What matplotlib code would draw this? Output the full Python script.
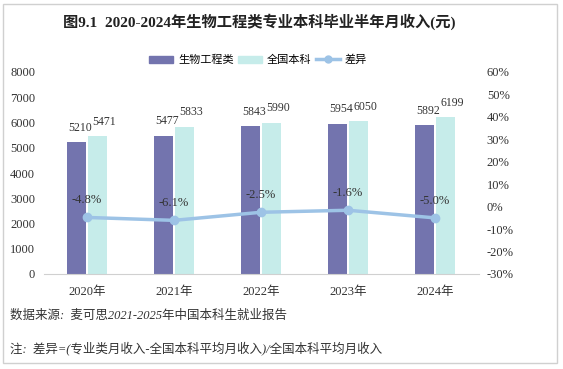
import matplotlib
matplotlib.use("Agg")
import matplotlib.pyplot as plt
import numpy as np
from matplotlib.patches import Rectangle
from matplotlib.lines import Line2D

years = ["2020年", "2021年", "2022年", "2023年", "2024年"]
bio_income = [5210, 5477, 5843, 5954, 5892]
national_income = [5471, 5833, 5990, 6050, 6199]
diff_pct = [-4.8, -6.1, -2.5, -1.6, -5.0]

FONT = ["Liberation Serif", "Noto Sans CJK SC"]
plt.rcParams["font.family"] = FONT

C_BIO = "#7374AE"
C_NAT = "#C6ECEA"
C_LINE = "#9DC3E6"

W, H = 563, 369
fig = plt.figure(figsize=(W / 100, H / 100), dpi=100)

# outer frame
fig.patches.append(Rectangle((3 / W, 6 / H), 554 / W, 359 / H, transform=fig.transFigure,
                             fill=False, edgecolor="#D0D0D0", linewidth=1))

ax = fig.add_axes([43.5 / W, (H - 274) / H, 435 / W, 202 / H])
x = np.arange(len(years))
bw = 0.225
off = 0.12
ax.bar(x - off, bio_income, bw, color=C_BIO, zorder=2)
ax.bar(x + off, national_income, bw, color=C_NAT, zorder=2)
ax.set_xlim(-0.5, len(years) - 0.5)
ax.set_ylim(0, 8000)
ax.set_yticks(range(0, 8001, 1000))
ax.set_xticks(x)
ax.set_xticklabels(years)
for s in ["top", "right", "left"]:
    ax.spines[s].set_visible(False)
ax.spines["bottom"].set_color("#D0D0D0")
ax.tick_params(axis="both", length=0, labelsize=9, colors="#333333")
ax.tick_params(axis="x", pad=9)
ax.tick_params(axis="y", pad=6)

for xi, v in zip(x, bio_income):
    ax.text(xi - off + 0.04, v + 330, str(v), ha="center", va="bottom", fontsize=8.5, color="#333333")
for xi, v in zip(x, national_income):
    ax.text(xi + off + 0.08, v + 330, str(v), ha="center", va="bottom", fontsize=8.5, color="#333333")

ax2 = ax.twinx()
ax2.plot(x, diff_pct, color=C_LINE, linewidth=2.5, marker="o", markersize=6, zorder=3)
ax2.set_ylim(-30, 60)
ax2.set_yticks(range(-30, 61, 10))
ax2.set_yticklabels([f"{t}%" for t in range(-30, 61, 10)])
for s in ax2.spines.values():
    s.set_visible(False)
ax2.tick_params(axis="y", length=0, labelsize=9, colors="#333333", pad=6)
for xi, v in zip(x, diff_pct):
    ax2.text(xi, v + 5.0, f"{v:.1f}%", ha="center", va="bottom", fontsize=9, color="#333333")

fig.text(259 / W, 1 - 22 / H, "图9.1  2020-2024年生物工程类专业本科毕业半年月收入(元)",
         ha="center", va="center", fontsize=11, fontweight="bold", color="#222222")

handles = [
    Rectangle((0, 0), 1, 1, color=C_BIO),
    Rectangle((0, 0), 1, 1, color=C_NAT),
    Line2D([0], [0], color=C_LINE, linewidth=2.5, marker="o", markersize=5),
]
fig.legend(handles, ["生物工程类", "全国本科", "差异"], loc="center", bbox_to_anchor=(258 / W, 1 - 60 / H),
           ncol=3, frameon=False, fontsize=8, handlelength=2.2, handleheight=0.6,
           columnspacing=0.4, handletextpad=0.4)

fig.text(10 / W, 1 - 316 / H, "数据来源:  麦可思2021-2025年中国本科生就业报告",
         ha="left", va="center", fontsize=9, style="italic", color="#333333")
fig.text(10 / W, 1 - 348 / H, "注:  差异=(专业类月收入-全国本科平均月收入)/全国本科平均月收入",
         ha="left", va="center", fontsize=9, style="italic", color="#333333")

fig.savefig("out.png", dpi=100)
